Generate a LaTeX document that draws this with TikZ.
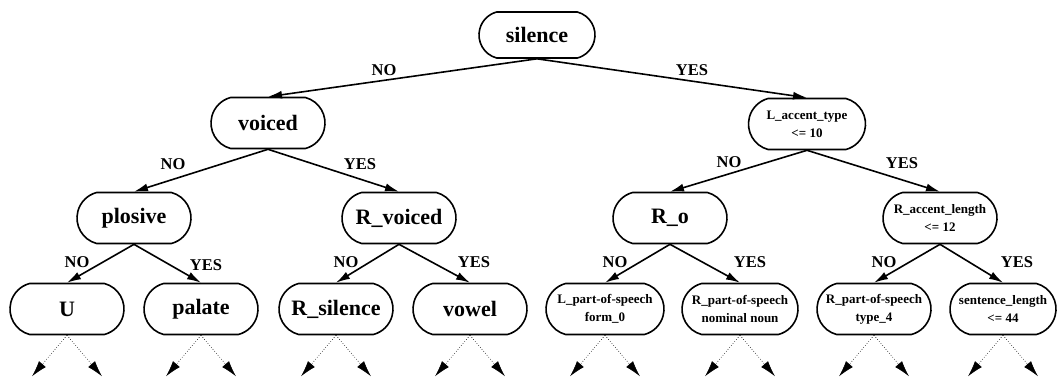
\documentclass[tikz,border=0pt]{standalone}
\usepackage{fontspec}
\setmainfont{Liberation Serif}
\usetikzlibrary{arrows.meta,calc,shapes.misc}
\tikzset{
  box/.style={draw, line width=1.6pt, rounded rectangle, rounded rectangle arc length=150, minimum width=118pt, minimum height=51pt, inner sep=2pt, align=center, font=\bfseries\fontsize{22}{24}\selectfont},
  smallbox/.style={box, font=\bfseries\fontsize{13}{18}\selectfont},
  edge/.style={line width=1.6pt, -{Latex[length=14pt,width=8pt]}},
  leafarrow/.style={line width=0.6pt, dotted, -{Latex[length=16pt,width=9pt]}},
  lab/.style={font=\bfseries\fontsize{16.5}{18}\selectfont, inner sep=0pt}
}
\begin{document}
\begin{tikzpicture}[x=1pt,y=-1pt]
\useasboundingbox (0,0) rectangle (1060,376);
% nodes
\node[box, minimum width=120pt, minimum height=46pt] (silence) at (537,35) {silence};
\node[box] (voiced) at (268,123) {voiced};
\node[smallbox, minimum width=121pt] (Lacc) at (807,124) {L\_accent\_type\\<= 10};
\node[box] (plosive) at (134,218) {plosive};
\node[box] (Rvoiced) at (399,218) {R\_voiced};
\node[box] (Ro) at (670,218) {R\_o};
\node[smallbox] (Racc) at (940,218) {R\_accent\_length\\<= 12};
\node[box] (U) at (67,309) {U};
\node[box] (palate) at (201,309) {palate};
\node[box] (Rsil) at (336,309) {R\_silence};
\node[box] (vowel) at (470,309) {vowel};
\node[smallbox, minimum width=122pt] (Lpos) at (605,309) {L\_part-of-speech\\form\_0};
\node[smallbox, minimum width=120pt] (Rpos) at (740,309) {R\_part-of-speech\\nominal noun};
\node[smallbox] (Rpost) at (874,309) {R\_part-of-speech\\type\_4};
\node[smallbox, minimum width=110pt] (slen) at (1003,309) {sentence\_length\\<= 44};
% edges
\draw[edge] (silence.south) -- (voiced.north);
\draw[edge] (silence.south) -- (Lacc.north);
\draw[edge] (voiced.south) -- (plosive.north);
\draw[edge] (voiced.south) -- (Rvoiced.north);
\draw[edge] (Lacc.south) -- (Ro.north);
\draw[edge] (Lacc.south) -- (Racc.north);
\draw[edge] (plosive.south) -- (U.north);
\draw[edge] (plosive.south) -- (palate.north);
\draw[edge] (Rvoiced.south) -- (Rsil.north);
\draw[edge] (Rvoiced.south) -- (vowel.north);
\draw[edge] (Ro.south) -- (Lpos.north);
\draw[edge] (Ro.south) -- (Rpos.north);
\draw[edge] (Racc.south) -- (Rpost.north);
\draw[edge] (Racc.south) -- (slen.north);
% leaf arrows
\foreach \n in {U,palate,Rsil,vowel,Lpos,Rpos,Rpost,slen}{
  \coordinate (\n-l) at ($(\n.south)+(-35,41)$);
  \coordinate (\n-r) at ($(\n.south)+(35,41)$);
  \draw[leafarrow] (\n.south) -- (\n-l);
  \draw[leafarrow] (\n.south) -- (\n-r);
}
% labels
\node[lab] (l1) at (384,70) {NO};
\node[lab] (l2) at (692,70) {YES};
\node[lab] (l3) at (173,164) {NO};
\node[lab] (l4) at (360,164) {YES};
\node[lab] (l5) at (729,162) {NO};
\node[lab] (l6) at (902,163) {YES};
\node[lab] (l7) at (77,262) {NO};
\node[lab] (l8) at (206,265) {YES};
\node[lab] (l9) at (346,262) {NO};
\node[lab] (l10) at (474,262) {YES};
\node[lab] (l11) at (615,262) {NO};
\node[lab] (l12) at (750,262) {YES};
\node[lab] (l13) at (884,262) {NO};
\node[lab] (l14) at (1017,262) {YES};
\end{tikzpicture}
\end{document}
